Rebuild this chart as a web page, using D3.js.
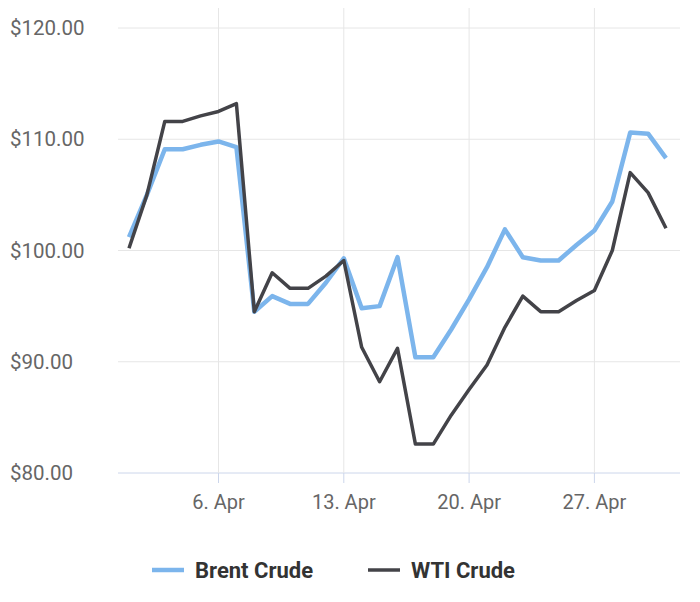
<!DOCTYPE html>
<html><head><meta charset="utf-8">
<script src="https://cdn.jsdelivr.net/npm/d3@7"></script>
<style>body{margin:0;background:#fff}text{font-family:Roboto,"Noto Sans",sans-serif}</style>
</head><body>
<svg id="chart" width="700" height="602"></svg>
<script>
// Daily values, 1 Apr to 1 May
const brent = [101.2,105.0,109.1,109.1,109.5,109.8,109.3,94.5,95.9,95.2,95.2,97.1,99.3,94.8,95.0,99.4,90.4,90.4,92.9,95.6,98.5,101.9,99.4,99.1,99.1,100.5,101.8,104.4,110.6,110.5,108.3];
const wti = [100.2,105.0,111.6,111.6,112.1,112.5,113.2,94.5,98.0,96.6,96.6,97.7,99.1,91.3,88.2,91.2,82.6,82.6,85.2,87.5,89.7,93.1,95.9,94.5,94.5,95.5,96.4,100.0,107.0,105.2,102.0];
const dates = brent.map((_, i) => new Date(2022, 3, 1 + i));
const series = [
  {name: "Brent Crude", values: brent, color: "#7cb5ec", width: 4.5},
  {name: "WTI Crude", values: wti, color: "#434348", width: 3.5}
];
const yTicks = [80, 90, 100, 110, 120];
const xTicks = [6, 13, 20, 27].map(d => new Date(2022, 3, d));

const svg = d3.select("#chart");
const margin = {top: 8, left: 129, right: 34, bottom: 129};
const W = 700, H = 602;
const x = d3.scaleTime().domain([dates[0], dates[dates.length - 1]]).range([margin.left, W - margin.right]);
const y = d3.scaleLinear().domain([80, 120]).range([473, 28]);

// grid
svg.append("g").selectAll("line").data(yTicks).join("line")
  .attr("x1", 118).attr("x2", W - 20).attr("y1", d => y(d)).attr("y2", d => y(d))
  .attr("stroke", d => d === 80 ? "#ccd6eb" : "#e6e6e6").attr("stroke-width", 1);
svg.append("g").selectAll("line").data(xTicks).join("line")
  .attr("x1", d => x(d)).attr("x2", d => x(d)).attr("y1", margin.top).attr("y2", 473)
  .attr("stroke", "#e6e6e6");
svg.append("g").selectAll("line").data(xTicks).join("line")
  .attr("x1", d => x(d)).attr("x2", d => x(d)).attr("y1", 473).attr("y2", 483)
  .attr("stroke", "#ccd6eb");

svg.append("g").selectAll("text").data(yTicks).join("text")
  .attr("x", 10).attr("y", d => y(d) + 7).attr("font-size", 20.5).attr("fill", "#666")
  .text(d => "$" + d.toFixed(2));
svg.append("g").selectAll("text").data(xTicks).join("text")
  .attr("x", d => x(d)).attr("y", 509).attr("text-anchor", "middle")
  .attr("font-size", 20).attr("fill", "#666")
  .text(d => d3.timeFormat("%-d. %b")(d));

const line = d3.line().x((d, i) => x(dates[i])).y(d => y(d));
series.forEach(s => {
  svg.append("path").datum(s.values).attr("d", line).attr("fill", "none")
    .attr("stroke", s.color).attr("stroke-width", s.width).attr("stroke-linejoin", "round");
});

// legend
const lg = svg.append("g");
const lx = [152, 368];
series.forEach((s, i) => {
  lg.append("line").attr("x1", lx[i]).attr("x2", lx[i] + 32).attr("y1", 570).attr("y2", 570)
    .attr("stroke", s.color).attr("stroke-width", s.width);
  lg.append("text").attr("x", lx[i] + 43).attr("y", 578).attr("font-size", 22)
    .attr("font-weight", "bold").attr("fill", "#333").text(s.name);
});
</script>
</body></html>
